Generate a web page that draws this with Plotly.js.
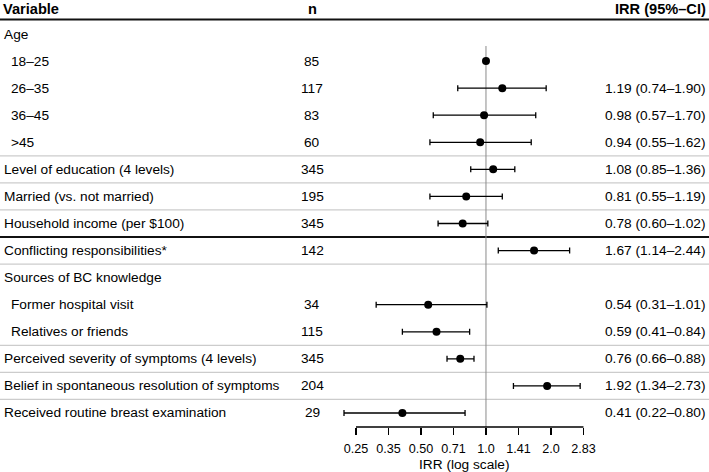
<!DOCTYPE html>
<html>
<head>
<meta charset="utf-8">
<script src="https://cdn.plot.ly/plotly-3.0.1.min.js"></script>
<style>
  html, body { margin: 0; padding: 0; background: #fff; }
  #chart { width: 709px; height: 472px; }
</style>
</head>
<body>
<div id="chart"></div>
<script>
// Forest plot: incidence rate ratios with 95% confidence intervals
const headers = ['Variable', 'n', 'IRR (95%–CI)'];
const rowLabels = [
  'Age', '18–25', '26–35', '36–45', '>45',
  'Level of education (4 levels)', 'Married (vs. not married)',
  'Household income (per $100)', 'Conflicting responsibilities*',
  'Sources of BC knowledge', 'Former hospital visit', 'Relatives or friends',
  'Perceived severity of symptoms (4 levels)',
  'Belief in spontaneous resolution of symptoms',
  'Received routine breast examination'
];
const subItem = [false, true, true, true, true, false, false, false, false, false, true, true, false, false, false];
const nValues = [null, 85, 117, 83, 60, 345, 195, 345, 142, null, 34, 115, 345, 204, 29];
const irr     = [null, 1.00, 1.19, 0.98, 0.94, 1.08, 0.81, 0.78, 1.67, null, 0.54, 0.59, 0.76, 1.92, 0.41];
const ciLower = [null, null, 0.74, 0.57, 0.55, 0.85, 0.55, 0.60, 1.14, null, 0.31, 0.41, 0.66, 1.34, 0.22];
const ciUpper = [null, null, 1.90, 1.70, 1.62, 1.36, 1.19, 1.02, 2.44, null, 1.01, 0.84, 0.88, 2.73, 0.80];
const tickLabels = ['0.25', '0.35', '0.50', '0.71', '1.0', '1.41', '2.0', '2.83'];
const tickValues = [0.25, 0.3536, 0.5, 0.7071, 1, 1.4142, 2, 2.8284];
const axisTitle = 'IRR (log scale)';

const FONT = 'Liberation Sans, Arial, Helvetica, sans-serif';
const W = 709, H = 472;
const rowIdx = rowLabels.map((_, i) => i + 1);   // row 0 holds the column headers
const axisPos = 45 / H;                           // x axis sits just under the last row

// points + horizontal CI whiskers
const trace = {
  type: 'scatter',
  mode: 'markers',
  x: irr,
  y: rowIdx,
  marker: { color: '#000', size: 8 },
  error_x: {
    type: 'data',
    symmetric: false,
    array: irr.map((v, i) => (v != null && ciUpper[i] != null) ? ciUpper[i] - v : null),
    arrayminus: irr.map((v, i) => (v != null && ciLower[i] != null) ? v - ciLower[i] : null),
    color: '#000',
    thickness: 1.3,
    width: 3
  },
  hoverinfo: 'skip',
  showlegend: false
};

const annotations = [];
const txt = (text, x, y, anchor, extra) => Object.assign({
  text, x: x / W, y, xref: 'paper', yref: 'y',
  xanchor: anchor, yanchor: 'middle', showarrow: false,
  font: { family: FONT, size: 13.7, color: '#000' }
}, extra || {});

// column headers, pinned to the top edge
const head = (text, x, anchor) => annotations.push({
  text: '<b>' + text + '</b>', x: x / W, y: 1, xref: 'paper', yref: 'paper',
  xanchor: anchor, yanchor: 'top', showarrow: false, borderpad: 0,
  font: { family: FONT, size: 14.6, color: '#000' }
});
head(headers[0], 2, 'left');
head(headers[1], 312, 'center');
head(headers[2], 707, 'right');

rowLabels.forEach((lab, i) => {
  const y = rowIdx[i];
  annotations.push(txt(lab, subItem[i] ? 9 : 2, y, 'left'));
  if (nValues[i] != null) annotations.push(txt(String(nValues[i]), 312, y, 'center'));
  if (ciLower[i] != null) {
    const s = irr[i].toFixed(2) + ' (' + ciLower[i].toFixed(2) + '–' + ciUpper[i].toFixed(2) + ')';
    annotations.push(txt(s, 707, y, 'right'));
  }
});

annotations.push({
  text: axisTitle, x: 464 / W, y: 1 - 464 / H, xref: 'paper', yref: 'paper',
  xanchor: 'center', yanchor: 'middle', showarrow: false,
  font: { family: FONT, size: 13.7, color: '#000' }
});

// row separators
const shapes = [];
const hline = (after, color, width) => shapes.push({
  type: 'line', xref: 'paper', yref: 'y', x0: 0, x1: 1,
  y0: after + 0.5, y1: after + 0.5, layer: 'below',
  line: { color, width }
});
hline(-0.04, '#111', 2);
[5, 6, 7, 9, 12, 13, 14].forEach(r => hline(r, '#cccccc', 1.3));
hline(8, '#111', 2);

// reference line at IRR = 1
shapes.push({
  type: 'line', xref: 'x', yref: 'paper', x0: 1, x1: 1,
  y0: 1 - 46 / H, y1: axisPos, layer: 'below',
  line: { color: '#8a8a8a', width: 1 }
});
// axis baseline spanning the tick range only
shapes.push({
  type: 'line', xref: 'x', yref: 'paper',
  x0: tickValues[0], x1: tickValues[tickValues.length - 1],
  y0: axisPos, y1: axisPos, layer: 'above',
  line: { color: '#000', width: 1.3 }
});

const layout = {
  width: W, height: H,
  margin: { l: 0, r: 0, t: 0, b: 0, pad: 0 },
  paper_bgcolor: '#fff', plot_bgcolor: 'rgba(0,0,0,0)',
  showlegend: false,
  xaxis: {
    type: 'log',
    range: [-2.2508, 1.0329],
    anchor: 'free', position: axisPos,
    showgrid: false, zeroline: false, showline: false,
    tickmode: 'array', tickvals: tickValues, ticktext: tickLabels,
    ticks: 'outside', ticklen: 7, tickwidth: 1.3, tickcolor: '#000',
    ticklabelstandoff: 3,
    tickfont: { family: FONT, size: 12.6, color: '#000' },
    fixedrange: true
  },
  yaxis: {
    range: [17.18, -0.256],
    visible: false, showgrid: false, zeroline: false, fixedrange: true
  },
  annotations, shapes
};

Plotly.newPlot('chart', [trace], layout, { displayModeBar: false, staticPlot: true });
</script>
</body>
</html>
